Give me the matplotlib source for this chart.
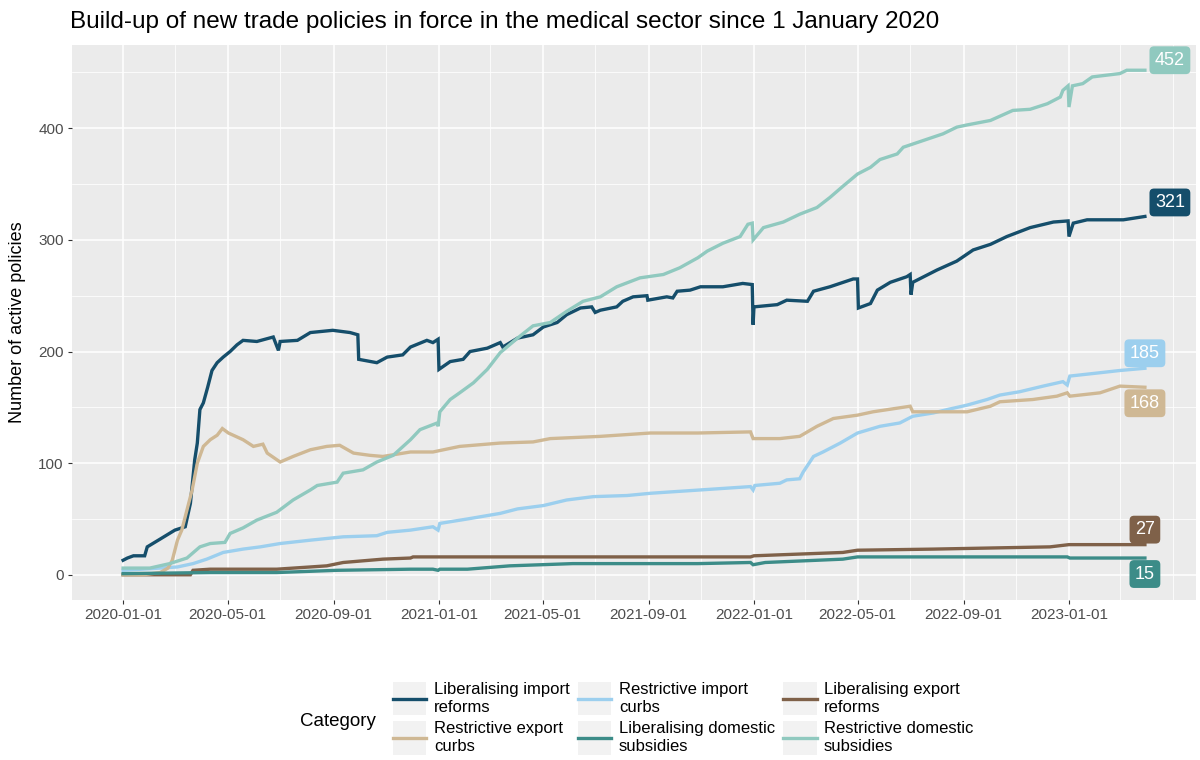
import matplotlib
matplotlib.use("Agg")
import matplotlib.pyplot as plt
import matplotlib.dates as mdates
from matplotlib.patches import Rectangle
from matplotlib.lines import Line2D
from matplotlib.legend_handler import HandlerTuple, HandlerLine2D
import pandas as pd

plt.rcParams['font.family'] = ['Liberation Sans', 'DejaVu Sans']

# ---- data ----
categories = ["Liberalising import\nreforms", "Restrictive import\ncurbs", "Liberalising export\nreforms",
              "Restrictive export\ncurbs", "Liberalising domestic\nsubsidies", "Restrictive domestic\nsubsidies"]
colors = ["#154e6b", "#9ccfee", "#7f6149", "#cfb894", "#3c8c88", "#90c9bf"]

lib_imp_dates = ["2020-01-01", "2020-01-06", "2020-01-13", "2020-01-26", "2020-01-29", "2020-02-13", "2020-03-01",
                 "2020-03-13", "2020-03-19", "2020-03-24", "2020-03-27", "2020-03-30", "2020-04-03", "2020-04-08",
                 "2020-04-13", "2020-04-19", "2020-04-26", "2020-05-04", "2020-05-12", "2020-05-19", "2020-06-04",
                 "2020-06-23", "2020-06-29", "2020-07-01", "2020-07-21", "2020-08-05", "2020-08-31", "2020-09-20",
                 "2020-09-29", "2020-09-30", "2020-10-21", "2020-11-02", "2020-11-20", "2020-11-29", "2020-12-18",
                 "2020-12-25", "2020-12-31", "2021-01-01", "2021-01-14", "2021-01-29", "2021-02-06", "2021-02-26",
                 "2021-03-13", "2021-03-16", "2021-04-02", "2021-04-20", "2021-05-02", "2021-05-18", "2021-05-29",
                 "2021-06-14", "2021-06-27", "2021-07-01", "2021-07-07", "2021-07-26", "2021-08-02", "2021-08-14",
                 "2021-08-30", "2021-08-31", "2021-09-22", "2021-09-29", "2021-10-04", "2021-10-19", "2021-10-31",
                 "2021-11-26", "2021-12-19", "2021-12-30", "2021-12-31", "2022-01-01", "2022-01-28", "2022-02-08",
                 "2022-03-04", "2022-03-11", "2022-03-30", "2022-04-26", "2022-05-01", "2022-05-02", "2022-05-16",
                 "2022-05-24", "2022-06-08", "2022-06-27", "2022-07-01", "2022-07-02", "2022-07-04", "2022-08-01",
                 "2022-08-24", "2022-09-12", "2022-10-02", "2022-10-21", "2022-11-17", "2022-12-14", "2022-12-31",
                 "2023-01-01", "2023-01-06", "2023-01-22", "2023-03-05", "2023-03-30"]
lib_imp_vals = [13, 15, 17, 17, 25, 32, 40, 43, 64, 103, 118, 148, 154, 168, 183, 190, 195, 200, 206, 210,
                209, 213, 201, 209, 210, 217, 219, 217, 215, 193, 190, 195, 197, 204, 210, 208, 211, 184, 191, 193,
                200, 203, 208, 204, 212, 215, 222, 226, 233, 239, 240, 235, 237, 240, 245, 249, 250, 246, 249, 248,
                254, 255, 258, 258, 261, 260, 224, 240, 242, 246, 245, 254, 258, 265, 265, 239, 243, 255, 262, 267,
                269, 251, 262, 273, 281, 291, 296, 303, 311, 316, 317, 303, 315, 318, 318, 321]

restr_imp_dates = ["2020-01-01", "2020-02-13", "2020-03-04", "2020-03-22", "2020-04-07", "2020-04-26", "2020-05-19",
                   "2020-06-08", "2020-07-01", "2020-08-05", "2020-09-12", "2020-10-21", "2020-11-02", "2020-11-29",
                   "2020-12-25", "2020-12-31", "2021-01-02", "2021-02-03", "2021-03-13", "2021-04-02", "2021-05-02",
                   "2021-05-29", "2021-06-29", "2021-08-07", "2021-09-03", "2021-09-22", "2021-10-31", "2021-12-28",
                   "2021-12-31", "2022-01-02", "2022-01-31", "2022-02-08", "2022-02-23", "2022-02-27", "2022-03-11",
                   "2022-03-22", "2022-04-11", "2022-05-01", "2022-05-27", "2022-06-19", "2022-07-04", "2022-07-28",
                   "2022-08-13", "2022-09-05", "2022-09-28", "2022-10-13", "2022-11-05", "2022-12-02", "2022-12-25",
                   "2022-12-30", "2023-01-02", "2023-02-06", "2023-03-01", "2023-03-30"]
restr_imp_vals = [4, 6, 7, 10, 14, 20, 23, 25, 28, 31, 34, 35, 38, 40, 43, 40, 46, 50, 55, 59, 62, 67, 70, 71,
                  73, 74, 76, 79, 76, 80, 82, 85, 86, 92, 106, 110, 118, 127, 133, 136, 142, 145, 148, 152, 157,
                  161, 164, 169, 173, 170, 178, 181, 183, 185]

lib_exp_dates = ["2020-01-01", "2020-03-19", "2020-03-22", "2020-04-11", "2020-06-27", "2020-08-05", "2020-08-24",
                 "2020-09-12", "2020-10-28", "2020-11-29", "2020-12-02", "2021-12-28", "2022-01-01", "2022-02-04",
                 "2022-04-14", "2022-05-01", "2022-07-28", "2022-12-10", "2023-01-01", "2023-03-30"]
lib_exp_vals = [0, 0, 4, 5, 5, 7, 8, 11, 14, 15, 16, 16, 17, 18, 20, 22, 23, 25, 27, 27]

restr_exp_dates = ["2020-01-01", "2020-01-24", "2020-02-13", "2020-02-22", "2020-02-27", "2020-03-04", "2020-03-09",
                   "2020-03-15", "2020-03-21", "2020-03-27", "2020-04-03", "2020-04-11", "2020-04-19", "2020-04-25",
                   "2020-05-02", "2020-05-19", "2020-05-31", "2020-06-11", "2020-06-16", "2020-07-01", "2020-07-16",
                   "2020-08-05", "2020-08-24", "2020-09-08", "2020-09-24", "2020-10-13", "2020-10-28", "2020-11-29",
                   "2020-12-25", "2021-01-25", "2021-03-13", "2021-04-20", "2021-05-10", "2021-07-07", "2021-09-03",
                   "2021-10-28", "2021-12-28", "2021-12-31", "2022-01-31", "2022-02-23", "2022-03-15", "2022-04-03",
                   "2022-05-01", "2022-05-19", "2022-07-01", "2022-07-04", "2022-09-05", "2022-10-02", "2022-10-13",
                   "2022-11-20", "2022-12-18", "2022-12-30", "2023-01-02", "2023-02-06", "2023-03-01", "2023-03-30"]
restr_exp_vals = [0, 0, 2, 6, 13, 31, 40, 58, 76, 100, 115, 121, 125, 131, 127, 121, 115, 117, 109, 101, 106,
                  112, 115, 116, 109, 107, 106, 110, 110, 115, 118, 119, 122, 124, 127, 127, 128, 122, 122, 124,
                  133, 140, 143, 146, 151, 146, 146, 151, 155, 157, 160, 163, 160, 163, 169, 168]

lib_dom_dates = ["2020-01-01", "2020-04-11", "2020-06-27", "2020-09-05", "2020-11-29", "2020-12-25", "2020-12-31",
                 "2021-01-02", "2021-02-03", "2021-03-24", "2021-06-05", "2021-10-28", "2021-12-28", "2021-12-31",
                 "2022-01-14", "2022-04-14", "2022-05-01", "2022-12-30", "2023-01-02", "2023-03-30"]
lib_dom_vals = [1, 2, 2, 4, 5, 5, 4, 5, 5, 8, 10, 10, 11, 9, 11, 14, 16, 16, 15, 15]

restr_dom_dates = ["2020-01-01", "2020-02-01", "2020-02-24", "2020-03-15", "2020-03-30", "2020-04-11", "2020-04-28",
                   "2020-05-04", "2020-05-19", "2020-06-04", "2020-06-27", "2020-07-16", "2020-08-05", "2020-08-13",
                   "2020-09-05", "2020-09-12", "2020-10-05", "2020-10-21", "2020-11-09", "2020-11-29", "2020-12-10",
                   "2020-12-30", "2020-12-31", "2021-01-02", "2021-01-14", "2021-01-25", "2021-02-10", "2021-02-26",
                   "2021-03-13", "2021-04-02", "2021-04-20", "2021-05-10", "2021-05-29", "2021-06-17", "2021-07-07",
                   "2021-07-26", "2021-08-22", "2021-09-18", "2021-10-07", "2021-10-28", "2021-11-08", "2021-11-26",
                   "2021-12-16", "2021-12-25", "2021-12-30", "2021-12-31", "2022-01-12", "2022-02-04", "2022-02-23",
                   "2022-03-15", "2022-03-30", "2022-04-14", "2022-05-01", "2022-05-16", "2022-05-27", "2022-06-16",
                   "2022-06-23", "2022-07-16", "2022-08-08", "2022-08-24", "2022-09-05", "2022-10-02", "2022-10-28",
                   "2022-11-17", "2022-12-07", "2022-12-22", "2022-12-25", "2022-12-31", "2023-01-01", "2023-01-05",
                   "2023-01-17", "2023-01-28", "2023-03-01", "2023-03-09", "2023-03-30"]
restr_dom_vals = [6, 6, 10, 15, 25, 28, 29, 37, 42, 49, 56, 67, 76, 80, 83, 91, 94, 101, 107, 121, 130, 136,
                  133, 146, 157, 163, 172, 184, 199, 212, 223, 226, 236, 245, 249, 258, 266, 269, 275, 284, 290,
                  297, 303, 314, 315, 300, 311, 316, 323, 329, 338, 348, 359, 365, 372, 377, 383, 389, 395, 401,
                  403, 407, 416, 417, 422, 428, 434, 438, 419, 438, 440, 446, 449, 452, 452]

x_ticks = ["2020-01-01", "2020-05-01", "2020-09-01", "2021-01-01", "2021-05-01", "2021-09-01",
           "2022-01-01", "2022-05-01", "2022-09-01", "2023-01-01"]

series = [(lib_imp_dates, lib_imp_vals), (restr_imp_dates, restr_imp_vals), (lib_exp_dates, lib_exp_vals),
          (restr_exp_dates, restr_exp_vals), (lib_dom_dates, lib_dom_vals), (restr_dom_dates, restr_dom_vals)]

# end-label nudges in pixels (repelled labels)
label_offsets = [(25, 14), (0, 15), (0, 15), (0, -16), (0, -16), (25, 10)]


class CenteredLine(HandlerLine2D):
    # legend line placed in the middle of the grey key box, a bit shorter than the box
    def create_artists(self, legend, orig_handle, xdescent, ydescent, width, height, fontsize, trans):
        arts = super().create_artists(legend, orig_handle, xdescent, ydescent, width, height, fontsize, trans)
        for a in arts:
            n = len(a.get_xdata())
            a.set_ydata([height / 2 - ydescent] * n)
            if n == 2:
                a.set_xdata([-xdescent + 0.1 * width, -xdescent + 0.9 * width])
        return arts


W, H = 1200, 760
fig = plt.figure(figsize=(W / 100, H / 100), dpi=100)
ax = fig.add_axes([72 / W, 1 - 600 / H, 1124 / W, 555 / H])
ax.set_facecolor("#ebebeb")

for (d, v), c in zip(series, colors):
    ax.plot(pd.to_datetime(d), v, color=c, lw=2.4, solid_joinstyle='miter', zorder=3)

for (d, v), c, (dx, dy) in zip(series, colors, label_offsets):
    ax.annotate(str(v[-1]), xy=(pd.to_datetime(d[-1]), v[-1]), xytext=(dx, dy), textcoords='offset pixels',
                ha='center', va='center', color='white', fontsize=13, zorder=5,
                bbox=dict(boxstyle='round,pad=0.3,rounding_size=0.25', fc=c, ec='none'))

# axis limits with ggplot-like 5% expansion
all_dates = pd.to_datetime([x for d, _ in series for x in d])
all_vals = [x for _, v in series for x in v]
x0, x1 = mdates.date2num(all_dates.min()), mdates.date2num(all_dates.max())
ax.set_xlim(x0 - 0.05 * (x1 - x0), x1 + 0.05 * (x1 - x0))
y0, y1 = min(all_vals), max(all_vals)
ax.set_ylim(y0 - 0.05 * (y1 - y0), y1 + 0.05 * (y1 - y0))

ax.set_xticks(mdates.date2num(pd.to_datetime(x_ticks)))
ax.set_xticklabels(x_ticks)
ax.xaxis.set_minor_locator(mdates.MonthLocator(bymonth=[1, 3, 5, 7, 9, 11]))
ax.set_yticks([0, 100, 200, 300, 400])
ax.set_yticks([50, 150, 250, 350, 450], minor=True)

ax.grid(which='major', color='white', lw=1.1, zorder=0)
ax.grid(which='minor', color='white', lw=0.55, zorder=0)
ax.set_axisbelow(True)
for s in ax.spines.values():
    s.set_visible(False)
ax.tick_params(which='major', length=3, width=0.8, color='#333333', labelcolor='#4d4d4d', labelsize=11, pad=3)
ax.tick_params(which='minor', length=0)

fig.text(18 / W, 1 - 322 / H, "Number of active policies", rotation=90, ha='center', va='center', fontsize=13)
fig.text(70 / W, 1 - 22 / H, "Build-up of new trade policies in force in the medical sector since 1 January 2020",
         ha='left', va='center', fontsize=17.5)

# legend: grey key boxes with a line segment, laid out 3 columns x 2 rows (row-major like ggplot)
order = [0, 3, 1, 4, 2, 5]
handles = [(Rectangle((0, 0), 1, 1, fc='#f2f2f2', ec='none'), Line2D([], [], color=colors[i], lw=2.4))
           for i in order]
labels = [categories[i] for i in order]
leg = fig.legend(handles, labels,
                 handler_map={tuple: HandlerTuple(ndivide=1, pad=0), Line2D: CenteredLine()}, ncol=3,
                 loc='upper left', bbox_to_anchor=(393 / W, 1 - 682 / H), frameon=False, borderpad=0,
                 borderaxespad=0, fontsize=12, handlelength=2.0, handleheight=2.7, handletextpad=0.45,
                 columnspacing=0.5, labelspacing=0.35)
for t in leg.get_texts():
    t.set_linespacing(1.25)
for col in leg._legend_handle_box.get_children():
    for row in col.get_children():
        row.align = 'center'
fig.text(300 / W, 1 - 722 / H, "Category", ha='left', va='center', fontsize=13.5)

fig.savefig("out.png", dpi=100)
